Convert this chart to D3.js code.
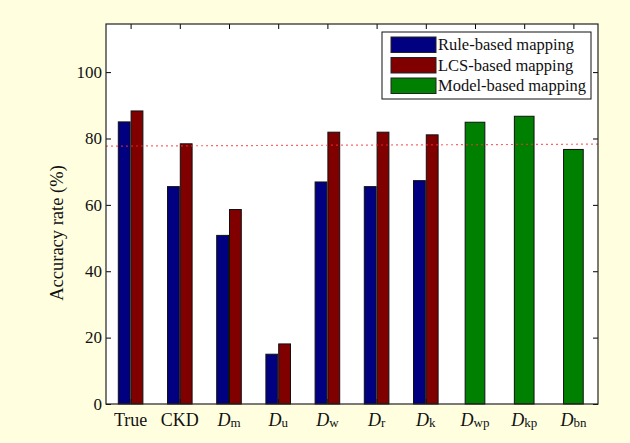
<!DOCTYPE html>
<html>
<head>
<meta charset="utf-8">
<script src="https://cdn.jsdelivr.net/npm/d3@7"></script>
<style>
  html, body { margin: 0; padding: 0; background: #ffffe0; }
  svg { display: block; font-family: "Liberation Serif", "Times New Roman", serif; }
</style>
</head>
<body>
<div id="chart"></div>
<script>
// category labels: main part + subscript
let labelMain = ['True', 'CKD', 'D', 'D', 'D', 'D', 'D', 'D', 'D', 'D']
let labelSub = ['', '', 'm', 'u', 'w', 'r', 'k', 'wp', 'kp', 'bn']

// accuracy rate (%) per series
let ruleBased = [85.0, 65.5, 50.8, 15.0, 66.9, 65.5, 67.3, 0, 0, 0]
let lcsBased = [88.3, 78.4, 58.6, 18.1, 81.9, 81.9, 81.1, 0, 0, 0]
let modelBased = [0, 0, 0, 0, 0, 0, 0, 84.9, 86.7, 76.7]

let seriesNames = ['Rule-based mapping', 'LCS-based mapping', 'Model-based mapping']
let colors = ['#000080', '#800000', '#008000']

// dotted reference line (start, end)
let refLine = [77.7, 78.3]

let yTicks = [0, 20, 40, 60, 80, 100]

let w_full = 630
let h_full = 443
var margin = {top: 24, right: 32, bottom: 39, left: 106}
let width = w_full - margin.left - margin.right
let height = h_full - margin.top - margin.bottom

let svg = d3.select('#chart')
    .append('svg')
    .attr('width', w_full)
    .attr('height', h_full)

svg.append('rect')
    .attr('width', w_full)
    .attr('height', h_full)
    .attr('fill', '#ffffe0')

let g = svg.append('g')
    .attr('transform', translation(margin.left, margin.top))

let x = d3.scaleLinear()
    .domain([0.5, 10.5])
    .range([0, width])

let y = d3.scaleLinear()
    .domain([0, 114.5])
    .range([height, 0])

let idx = d3.range(1, labelMain.length + 1)

// plot area
g.append('rect')
    .attr('width', width)
    .attr('height', height)
    .attr('fill', 'white')

let tickLen = 5

// ticks (inside, matlab style) -- drawn under the bars
g.append('g')
    .call(d3.axisBottom(x).tickValues(idx).tickSize(-tickLen).tickFormat(''))
    .attr('transform', translation(0, height))
    .call(a => a.select('.domain').remove())
g.append('g')
    .call(d3.axisTop(x).tickValues(idx).tickSize(-tickLen).tickFormat(''))
    .call(a => a.select('.domain').remove())
g.append('g')
    .call(d3.axisLeft(y).tickValues(yTicks).tickSize(-tickLen).tickFormat(''))
    .call(a => a.select('.domain').remove())
g.append('g')
    .attr('transform', translation(width, 0))
    .call(d3.axisRight(y).tickValues(yTicks).tickSize(-tickLen).tickFormat(''))
    .call(a => a.select('.domain').remove())
g.selectAll('.tick line').attr('stroke', '#000')

// bars
let unit = x(2) - x(1)
let pairW = 0.24 * unit
let pairOff = 0.13 * unit
let soloW = 0.4 * unit

function drawBars(values, color, offset, bw) {
    g.append('g')
        .selectAll('rect')
        .data(values.map((v, i) => ({v: v, i: i + 1})).filter(d => d.v > 0))
        .join('rect')
        .attr('x', d => x(d.i) + offset - bw / 2)
        .attr('y', d => y(d.v))
        .attr('width', bw)
        .attr('height', d => y(0) - y(d.v))
        .attr('fill', color)
        .attr('stroke', '#111')
        .attr('stroke-width', 1)
}
drawBars(ruleBased, colors[0], -pairOff, pairW)
drawBars(lcsBased, colors[1], pairOff, pairW)
drawBars(modelBased, colors[2], 0, soloW)

// dotted reference line
g.append('path')
    .datum(refLine)
    .attr('fill', 'none')
    .attr('stroke', '#ff3030')
    .attr('stroke-opacity', 0.75)
    .attr('stroke-width', 1.2)
    .attr('stroke-dasharray', '2,3')
    .attr('d', d3.line()
        .x((d, i) => x(i == 0 ? 0.5 : 10.5))
        .y(d => y(d)))

// frame
g.append('rect')
    .attr('width', width)
    .attr('height', height)
    .attr('fill', 'none')
    .attr('stroke', '#222')
    .attr('stroke-width', 1.2)

// y tick labels
g.append('g')
    .selectAll('text')
    .data(yTicks)
    .join('text')
    .attr('x', -4)
    .attr('y', d => y(d))
    .attr('dy', '0.34em')
    .attr('text-anchor', 'end')
    .attr('font-size', 17)
    .attr('fill', '#111')
    .text(d => d)

// x labels
let xl = g.append('g')
    .selectAll('text')
    .data(idx)
    .join('text')
    .attr('x', d => x(d))
    .attr('y', height + 21.5)
    .attr('text-anchor', 'middle')
    .attr('font-size', 18)
    .attr('fill', '#111')
xl.append('tspan')
    .attr('font-style', d => labelSub[d - 1] ? 'italic' : 'normal')
    .text(d => labelMain[d - 1])
xl.append('tspan')
    .attr('font-size', 13)
    .attr('dy', 1.5)
    .text(d => labelSub[d - 1])

// y axis title
svg.append('text')
    .attr('transform', 'translate(63,233) rotate(-90)')
    .attr('text-anchor', 'middle')
    .attr('font-size', 18.5)
    .attr('fill', '#111')
    .text('Accuracy rate (%)')

// legend
let legend = svg.append('g')
    .attr('class', 'legend')
    .attr('transform', translation(382, 32))
legend.append('rect')
    .attr('width', 209)
    .attr('height', 67)
    .attr('fill', 'white')
    .attr('stroke', '#111')
    .attr('stroke-width', 1)
let rows = legend.selectAll('.row')
    .data(seriesNames)
    .join('g')
    .attr('class', 'row')
    .attr('transform', (d, i) => translation(9, 5 + i * 20.5))
rows.append('rect')
    .attr('width', 45)
    .attr('height', 15.5)
    .attr('fill', (d, i) => colors[i])
    .attr('stroke', '#222')
rows.append('text')
    .attr('x', 47)
    .attr('y', 13)
    .attr('font-size', 16.5)
    .attr('fill', '#111')
    .text(d => d)

function translation(a, b) {
    return 'translate(' + a + ',' + b + ')'
}
</script>
</body>
</html>
